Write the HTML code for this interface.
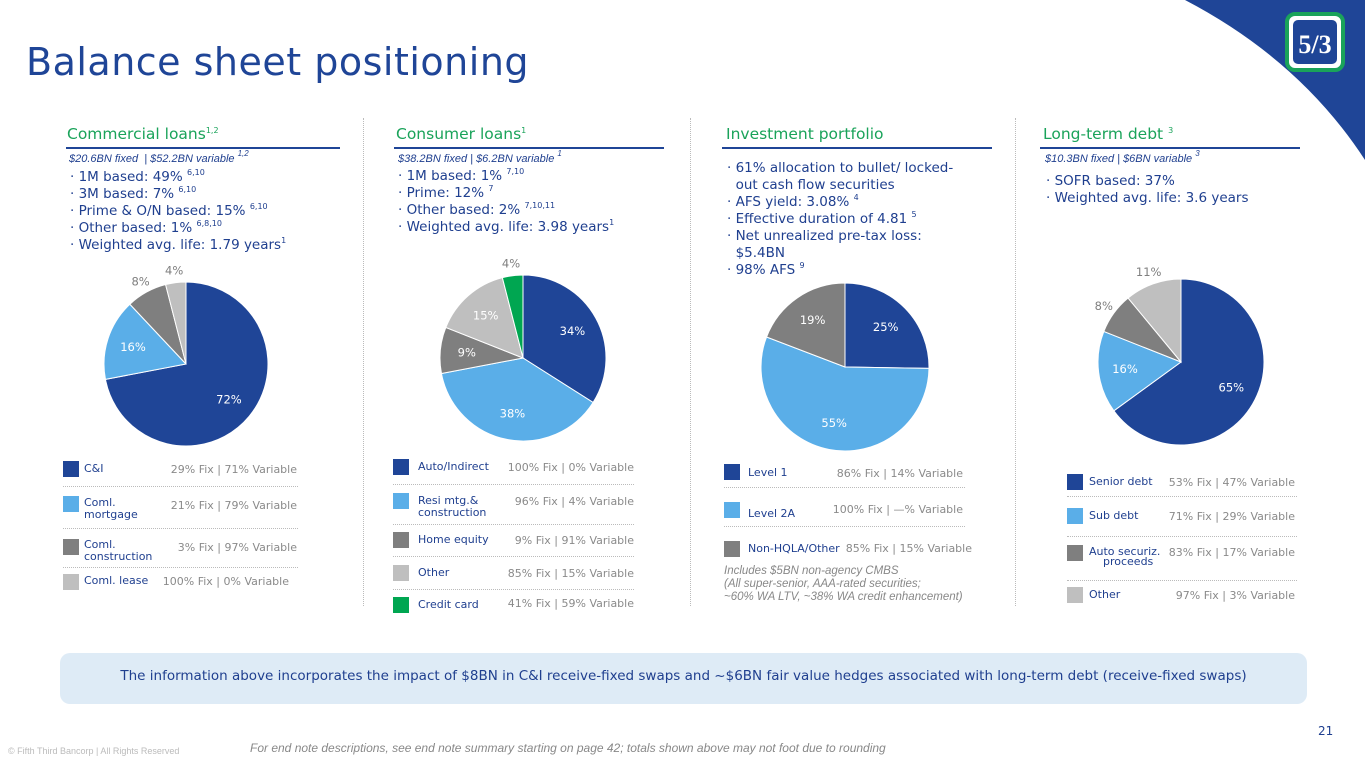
<!DOCTYPE html>
<html><head><meta charset="utf-8">
<style>
*{margin:0;padding:0;box-sizing:border-box}
body{width:1365px;height:768px;position:relative;background:#fff;font-family:"DejaVu Sans",sans-serif;overflow:hidden;color:#1f3f8f}
.a{position:absolute;white-space:nowrap}
.hd{font-size:15.5px;color:#1aa35a}
.rule{position:absolute;height:2px;background:#1f4597}
.it{font-style:italic;font-size:11px;color:#1f3f8f;font-family:"Liberation Sans",sans-serif}
.bl{font-size:13.5px;line-height:17px;color:#1f3f8f}
sup{font-size:8px;vertical-align:6px;line-height:0}
.vd{position:absolute;top:118px;height:488px;border-left:1px dotted #bbb}
.sw{position:absolute;width:16px;height:16px}
.ln{font-size:11px;color:#1f3f8f;line-height:12px}
.lv{font-size:11px;color:#8a8a8a;text-align:right}
.dl{position:absolute;height:0;border-top:1px dotted #bbb}
</style></head><body>
<svg class="a" style="left:0;top:0" width="1365" height="768">
<path d="M1185 0 Q1300 60 1365 160 L1365 0 Z" fill="#1f4597"/>
<rect x="1287" y="14" width="56" height="56" rx="8" fill="#fff" stroke="#1aa35a" stroke-width="4"/>
<rect x="1293" y="20" width="44" height="44" rx="5" fill="#1f4597"/>
<text x="1315" y="53" font-size="26" font-weight="bold" fill="#fff" text-anchor="middle" font-family="Liberation Serif,serif">5/3</text>
</svg>
<div class="a" style="left:26px;top:40px;font-size:38px;color:#1f4597;letter-spacing:0.5px">Balance sheet positioning</div>

<div class="vd" style="left:363px"></div><div class="vd" style="left:690px"></div><div class="vd" style="left:1015px"></div>

<div class="a hd" style="left:67px;top:125px">Commercial loans<sup>1,2</sup></div>
<div class="rule" style="left:66px;top:147px;width:274px"></div>
<div class="a it" style="left:69px;top:153px">$20.6BN fixed&nbsp; | $52.2BN variable <sup>1,2</sup></div>
<div class="a bl" style="left:70px;top:169px">· 1M based: 49% <sup>6,10</sup><br>· 3M based: 7% <sup>6,10</sup><br>· Prime &amp; O/N based: 15% <sup>6,10</sup><br>· Other based: 1% <sup>6,8,10</sup><br>· Weighted avg. life: 1.79 years<sup>1</sup></div>

<div class="a hd" style="left:396px;top:125px">Consumer loans<sup>1</sup></div>
<div class="rule" style="left:394px;top:147px;width:270px"></div>
<div class="a it" style="left:398px;top:153px">$38.2BN fixed | $6.2BN variable <sup>1</sup></div>
<div class="a bl" style="left:398px;top:168px">· 1M based: 1% <sup>7,10</sup><br>· Prime: 12% <sup>7</sup><br>· Other based: 2% <sup>7,10,11</sup><br>· Weighted avg. life: 3.98 years<sup>1</sup></div>

<div class="a hd" style="left:726px;top:125px">Investment portfolio</div>
<div class="rule" style="left:722px;top:147px;width:270px"></div>
<div class="a bl" style="left:727px;top:160px">· 61% allocation to bullet/ locked-<br>&nbsp;&nbsp;out cash flow securities<br>· AFS yield: 3.08% <sup>4</sup><br>· Effective duration of 4.81 <sup>5</sup><br>· Net unrealized pre-tax loss:<br>&nbsp;&nbsp;$5.4BN<br>· 98% AFS <sup>9</sup></div>

<div class="a hd" style="left:1043px;top:125px">Long-term debt <sup>3</sup></div>
<div class="rule" style="left:1040px;top:147px;width:260px"></div>
<div class="a it" style="left:1045px;top:153px">$10.3BN fixed | $6BN variable <sup>3</sup></div>
<div class="a bl" style="left:1046px;top:173px">· SOFR based: 37%<br>· Weighted avg. life: 3.6 years</div>

<svg id="pies" class="a" style="left:0;top:0" width="1365" height="768"></svg>

<div class="sw" style="left:63px;top:461px;background:#1f4597"></div><div class="a ln" style="left:84px;top:463px">C&amp;I</div><div class="a lv" style="left:140px;top:463px;width:157px">29% Fix | 71% Variable</div>
<div class="dl" style="left:63px;top:486px;width:235px"></div>
<div class="sw" style="left:63px;top:496px;background:#5aaee8"></div><div class="a ln" style="left:84px;top:497px">Coml.<br>mortgage</div><div class="a lv" style="left:140px;top:499px;width:157px">21% Fix | 79% Variable</div>
<div class="dl" style="left:63px;top:528px;width:235px"></div>
<div class="sw" style="left:63px;top:539px;background:#7f7f7f"></div><div class="a ln" style="left:84px;top:539px">Coml.<br>construction</div><div class="a lv" style="left:140px;top:541px;width:157px">3% Fix | 97% Variable</div>
<div class="dl" style="left:63px;top:567px;width:235px"></div>
<div class="sw" style="left:63px;top:574px;background:#bfbfbf"></div><div class="a ln" style="left:84px;top:575px">Coml. lease</div><div class="a lv" style="left:140px;top:575px;width:149px">100% Fix | 0% Variable</div>

<div class="sw" style="left:393px;top:459px;background:#1f4597"></div><div class="a ln" style="left:418px;top:461px">Auto/Indirect</div><div class="a lv" style="left:470px;top:461px;width:164px">100% Fix | 0% Variable</div>
<div class="dl" style="left:393px;top:484px;width:241px"></div>
<div class="sw" style="left:393px;top:493px;background:#5aaee8"></div><div class="a ln" style="left:418px;top:495px">Resi mtg.&amp;<br>construction</div><div class="a lv" style="left:470px;top:495px;width:164px">96% Fix | 4% Variable</div>
<div class="dl" style="left:393px;top:524px;width:241px"></div>
<div class="sw" style="left:393px;top:532px;background:#7f7f7f"></div><div class="a ln" style="left:418px;top:534px">Home equity</div><div class="a lv" style="left:470px;top:534px;width:164px">9% Fix | 91% Variable</div>
<div class="dl" style="left:393px;top:556px;width:241px"></div>
<div class="sw" style="left:393px;top:565px;background:#bfbfbf"></div><div class="a ln" style="left:418px;top:567px">Other</div><div class="a lv" style="left:470px;top:567px;width:164px">85% Fix | 15% Variable</div>
<div class="dl" style="left:393px;top:589px;width:241px"></div>
<div class="sw" style="left:393px;top:597px;background:#00a651"></div><div class="a ln" style="left:418px;top:599px">Credit card</div><div class="a lv" style="left:470px;top:597px;width:164px">41% Fix | 59% Variable</div>

<div class="sw" style="left:724px;top:464px;background:#1f4597"></div><div class="a ln" style="left:748px;top:467px">Level 1</div><div class="a lv" style="left:800px;top:467px;width:163px">86% Fix | 14% Variable</div>
<div class="dl" style="left:724px;top:487px;width:241px"></div>
<div class="sw" style="left:724px;top:502px;background:#5aaee8"></div><div class="a ln" style="left:748px;top:508px">Level 2A</div><div class="a lv" style="left:800px;top:503px;width:163px">100% Fix | —% Variable</div>
<div class="dl" style="left:724px;top:526px;width:241px"></div>
<div class="sw" style="left:724px;top:541px;background:#7f7f7f"></div><div class="a ln" style="left:748px;top:543px">Non-HQLA/Other</div><div class="a lv" style="left:800px;top:542px;width:172px">85% Fix | 15% Variable</div>
<div class="a it" style="left:724px;top:565px;color:#888;line-height:13px;font-size:11.5px">Includes $5BN non-agency CMBS<br>(All super-senior, AAA-rated securities;<br>~60% WA LTV, ~38% WA credit enhancement)</div>

<div class="sw" style="left:1067px;top:474px;background:#1f4597"></div><div class="a ln" style="left:1089px;top:476px">Senior debt</div><div class="a lv" style="left:1140px;top:476px;width:155px">53% Fix | 47% Variable</div>
<div class="dl" style="left:1067px;top:496px;width:230px"></div>
<div class="sw" style="left:1067px;top:508px;background:#5aaee8"></div><div class="a ln" style="left:1089px;top:510px">Sub debt</div><div class="a lv" style="left:1140px;top:510px;width:155px">71% Fix | 29% Variable</div>
<div class="dl" style="left:1067px;top:536px;width:230px"></div>
<div class="sw" style="left:1067px;top:545px;background:#7f7f7f"></div><div class="a ln" style="left:1089px;top:547px;line-height:10px">Auto securiz.<br>&nbsp;&nbsp;&nbsp;&nbsp;proceeds</div><div class="a lv" style="left:1140px;top:546px;width:155px">83% Fix | 17% Variable</div>
<div class="dl" style="left:1067px;top:580px;width:230px"></div>
<div class="sw" style="left:1067px;top:587px;background:#bfbfbf"></div><div class="a ln" style="left:1089px;top:589px">Other</div><div class="a lv" style="left:1140px;top:589px;width:155px">97% Fix | 3% Variable</div>

<div class="a" style="left:60px;top:653px;width:1247px;height:51px;background:#deebf6;border-radius:10px;font-size:13.5px;color:#1f3f8f;text-align:center;line-height:47px">The information above incorporates the impact of $8BN in C&amp;I receive-fixed swaps and ~$6BN fair value hedges associated with long-term debt (receive-fixed swaps)</div>
<div class="a" style="left:1318px;top:724px;font-size:12px;color:#1f3f8f">21</div>
<div class="a" style="left:8px;top:746px;font-size:9px;color:#bbb;font-family:'Liberation Sans',sans-serif">© Fifth Third Bancorp | All Rights Reserved</div>
<div class="a it" style="left:250px;top:741px;color:#888;font-size:12px">For end note descriptions, see end note summary starting on page 42; totals shown above may not foot due to rounding</div>

<script>
const commercialValues=[72,16,8,4];
const consumerValues=[34,38,9,15,4];
const investmentValues=[25,55,19];
const debtValues=[65,16,8,11];
const pieColors=['#1f4597','#5aaee8','#7f7f7f','#bfbfbf','#00a651'];
const charts=[
 {name:'commercial',vals:commercialValues,cx:186,cy:364,r:82,out:[0,0,1,1]},
 {name:'consumer',vals:consumerValues,cx:523,cy:358,r:83,out:[0,0,0,0,1]},
 {name:'investment',vals:investmentValues,cx:845,cy:367,r:84,out:[0,0,0]},
 {name:'debt',vals:debtValues,cx:1181,cy:362,r:83,out:[0,0,1,1]}
];
const NS='http://www.w3.org/2000/svg';
const svg=document.getElementById('pies');
charts.forEach(c=>{
 const tot=c.vals.reduce((a,b)=>a+b,0);let a0=0;
 c.vals.forEach((v,i)=>{
  const a1=a0+v/tot*2*Math.PI;
  const p=(a)=>[c.cx+c.r*Math.sin(a),c.cy-c.r*Math.cos(a)];
  const [x0,y0]=p(a0),[x1,y1]=p(a1);
  const path=document.createElementNS(NS,'path');
  path.setAttribute('d',`M${c.cx} ${c.cy} L${x0} ${y0} A${c.r} ${c.r} 0 ${a1-a0>Math.PI?1:0} 1 ${x1} ${y1} Z`);
  path.setAttribute('fill',pieColors[i]);path.setAttribute('stroke','#fff');path.setAttribute('stroke-width','1');
  
  
  svg.appendChild(path);
  const m=(a0+a1)/2,rr=c.out[i]?c.r*1.15:c.r*0.68;
  const t=document.createElementNS(NS,'text');
  t.setAttribute('x',c.cx+rr*Math.sin(m));t.setAttribute('y',c.cy-rr*Math.cos(m)+4);
  t.setAttribute('text-anchor','middle');t.setAttribute('font-size','11.5');
  t.setAttribute('font-family','DejaVu Sans,sans-serif');
  t.setAttribute('fill',c.out[i]?'#7f7f7f':'#fff');
  t.textContent=v+'%';
  
  
  svg.appendChild(t);
  a0=a1;
 });
});
</script>
</body></html>
